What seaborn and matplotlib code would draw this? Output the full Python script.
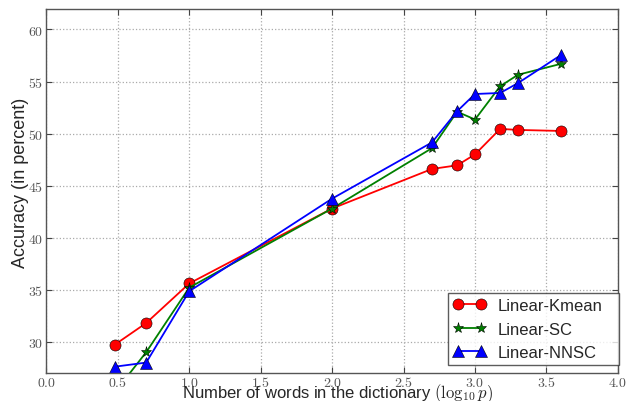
import numpy as np
import pandas as pd
import matplotlib
matplotlib.use("Agg")
import matplotlib.pyplot as plt
import seaborn as sns
from matplotlib.ticker import FuncFormatter

# Data
dict_sizes = [3, 5, 10, 100, 500, 750, 1000, 1500, 2000, 4000]
kmean = [29.7, 31.8, 35.6, 42.8, 46.6, 46.95, 48.0, 50.45, 50.35, 50.25]
sc = [25.1, 29.0, 35.2, 42.8, 48.6, 52.1, 51.35, 54.55, 55.65, 56.7]
nnsc = [27.6, 28.0, 34.85, 43.75, 49.15, 52.15, 53.8, 53.9, 54.85, 57.55]
series_names = ["Linear-Kmean", "Linear-SC", "Linear-NNSC"]

sns.set_style("white")
plt.rcParams["font.family"] = ["Liberation Sans", "DejaVu Sans"]
plt.rcParams["mathtext.fontset"] = "cm"

x = np.log10(dict_sizes)
frames = []
for name, vals in zip(series_names, [kmean, sc, nnsc]):
    frames.append(pd.DataFrame({"x": x, "acc": vals, "method": name}))
df = pd.concat(frames, ignore_index=True)

fig = plt.figure(figsize=(6.39, 4.02), dpi=100)
ax = fig.add_axes([0.0725, 0.0697, 0.8945, 0.9063])

styles = {
    "Linear-Kmean": dict(color="red", marker="o", markersize=8),
    "Linear-SC": dict(color="green", marker="*", markersize=8),
    "Linear-NNSC": dict(color="blue", marker="^", markersize=8),
}
for name in series_names:
    st = styles[name]
    sub = df[df["method"] == name]
    sns.lineplot(data=sub, x="x", y="acc", ax=ax, label=name,
                 color=st["color"], marker=st["marker"], markersize=st["markersize"],
                 markeredgecolor="black", markeredgewidth=0.4, linewidth=1.3,
                 sort=False, estimator=None)

ax.set_xlim(0, 4)
ax.set_ylim(27, 62)
ax.set_xticks(np.arange(0, 4.01, 0.5))
ax.set_yticks(np.arange(30, 61, 5))
ax.xaxis.set_major_formatter(FuncFormatter(lambda v, p: r"$%.1f$" % v))
ax.yaxis.set_major_formatter(FuncFormatter(lambda v, p: r"$%d$" % v))
ax.tick_params(direction="in", length=4, labelsize=10, labelcolor="#555555",
               color="#444444", top=True, right=True, bottom=True, left=True)
ax.tick_params(axis="x", pad=1.5)
ax.tick_params(axis="y", pad=2)
ax.grid(True, linestyle=":", color="#aaaaaa", linewidth=0.9)
for s in ax.spines.values():
    s.set_color("#555555")
    s.set_linewidth(1.0)

ax.set_xlabel(r"Number of words in the dictionary $(\log_{10} p)$", fontsize=12)
ax.xaxis.label.set(ha="left", va="baseline")
ax.xaxis.set_label_coords(0.2368, -0.0665)
ax.set_ylabel("Accuracy (in percent)", fontsize=13)
ax.yaxis.label.set(ha="left", va="baseline", rotation_mode="anchor")
ax.yaxis.set_label_coords(-0.0373, 0.291)

leg = ax.legend(loc="lower left", bbox_to_anchor=(0.7026, 0.022, 0.299, 0.2),
                mode="expand", fontsize=12,
                frameon=True, fancybox=False, edgecolor="#333333",
                borderaxespad=0.0, handlelength=2.0, numpoints=2,
                handletextpad=0.7, borderpad=0.3, labelspacing=0.5)
leg.get_frame().set_linewidth(1.0)

fig.savefig("out.png", dpi=100)
